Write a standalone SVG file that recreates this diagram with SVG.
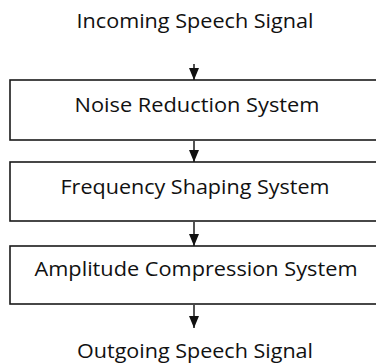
<svg xmlns="http://www.w3.org/2000/svg" width="376" height="364" viewBox="0 0 376 364">
<defs>
<style>
.box{fill:#fff;stroke:#1a1a1a;stroke-width:1.6}
.lbl{font-family:"Open Sans","Liberation Sans",sans-serif;font-size:20px;fill:#111;text-anchor:middle}
.conn{stroke:#1a1a1a;stroke-width:1.5;fill:none}
</style>
<marker id="ah" viewBox="0 0 12 10" refX="12" refY="5" markerWidth="12" markerHeight="11" markerUnits="userSpaceOnUse" orient="auto">
<path d="M0,0 L12,5 L0,10 Z" fill="#111"/>
</marker>
</defs>
<rect width="376" height="364" fill="#fff"/>
<g id="input">
<text class="lbl" x="195" y="28" textLength="237" lengthAdjust="spacingAndGlyphs">Incoming Speech Signal</text>
</g>
<g id="noise">
<rect class="box" x="10" y="80" width="380" height="60"/>
<text class="lbl" x="197" y="112" textLength="245" lengthAdjust="spacingAndGlyphs">Noise Reduction System</text>
</g>
<g id="freq">
<rect class="box" x="10" y="162" width="380" height="59"/>
<text class="lbl" x="195" y="194" textLength="269" lengthAdjust="spacingAndGlyphs">Frequency Shaping System</text>
</g>
<g id="amp">
<rect class="box" x="10" y="246" width="380" height="58"/>
<text class="lbl" x="196" y="276" textLength="323" lengthAdjust="spacingAndGlyphs">Amplitude Compression System</text>
</g>
<g id="output">
<text class="lbl" x="195" y="358" textLength="236" lengthAdjust="spacingAndGlyphs">Outgoing Speech Signal</text>
</g>
<g id="connectors">
<line class="conn" x1="194" y1="64" x2="194" y2="80" marker-end="url(#ah)"/>
<line class="conn" x1="194" y1="141" x2="194" y2="162" marker-end="url(#ah)"/>
<line class="conn" x1="194" y1="222" x2="194" y2="246" marker-end="url(#ah)"/>
<line class="conn" x1="194" y1="305" x2="194" y2="328" marker-end="url(#ah)"/>
</g>
</svg>
